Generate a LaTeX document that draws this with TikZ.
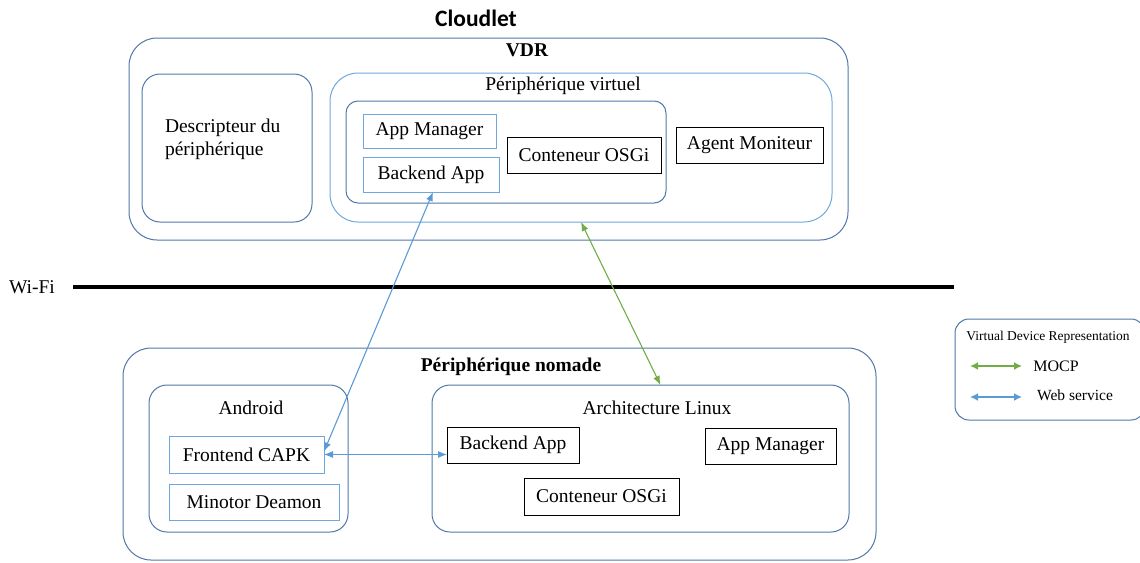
\documentclass[tikz,border=0pt]{standalone}
\usepackage{fontspec}
\setmainfont{Liberation Serif}
\newfontfamily\titlefont{Carlito}
\usetikzlibrary{arrows.meta,calc}
\definecolor{steel}{HTML}{5078A8}
\definecolor{lblue}{HTML}{6FA8DC}
\definecolor{abluec}{HTML}{5B9BD5}
\definecolor{agreen}{HTML}{70AD47}
\begin{document}
\begin{tikzpicture}[x=1pt,y=-1pt,
  every node/.style={inner sep=0pt, outer sep=0pt},
  txt/.style={font=\fontsize{19.5}{23}\selectfont},
  bigbox/.style={draw=steel, line width=1pt, rounded corners=28pt},
  midbox/.style={draw=steel, line width=1pt, rounded corners=18pt},
  lbbox/.style={draw=lblue, line width=1pt, rounded corners=28pt},
  smallrb/.style={draw=steel, line width=1pt, rounded corners=12pt},
  bluebox/.style={draw=lblue, line width=1pt, txt},
  blackbox/.style={draw=black, line width=0.9pt, txt},
  warrow/.style={line width=1.1pt, {Latex[length=9pt,width=7pt]}-{Latex[length=9pt,width=7pt]}}
]
\useasboundingbox (0,0) rectangle (1140,562);
% Cloudlet
\node[font=\titlefont\bfseries\fontsize{23.5}{28}\selectfont] (cloudlet) at (476,18) {Cloudlet};
\node[bigbox, minimum width=719pt, minimum height=202pt] (vdr) at (488.5,139) {};
\node[font=\fontsize{19.5}{23}\selectfont\bfseries] (vdrl) at (527,50) {VDR};
\node[midbox, minimum width=170pt, minimum height=148pt] (desc) at (227,148) {};
\node[txt, align=left, anchor=west] (descl) at (165,139) {Descripteur du\\périphérique};
\node[lbbox, minimum width=502pt, minimum height=149pt] (pv) at (581,147.5) {};
\node[txt] (pvl) at (563,86) {Périphérique virtuel};
\node[smallrb, minimum width=320pt, minimum height=102pt] (inner) at (506,152) {};
\node[bluebox, minimum width=133pt, minimum height=34pt] (vam) at (429.5,131) {App Manager};
\node[bluebox, minimum width=136pt, minimum height=35pt] (vba) at (431,174.5) {Backend App};
\node[blackbox, minimum width=154pt, minimum height=36pt] (vosgi) at (584,155) {Conteneur OSGi};
\node[blackbox, minimum width=147pt, minimum height=36pt] (agent) at (749.5,145) {Agent Moniteur};
% Wi-Fi
\node[txt] (wifi) at (32,287) {Wi-Fi};
\coordinate (w1) at (73,287);
\coordinate (w2) at (954,287);
\draw[line width=4pt] (w1) -- (w2);
% Peripherique nomade
\node[bigbox, minimum width=753pt, minimum height=212pt] (pn) at (499.5,454) {};
\node[font=\fontsize{19.5}{23}\selectfont\bfseries] (pnl) at (511,367) {Périphérique nomade};
\node[midbox, minimum width=199pt, minimum height=147pt] (android) at (248.5,458.5) {};
\node[txt] (androidl) at (251,408) {Android};
\node[bluebox, minimum width=155pt, minimum height=37pt] (fcapk) at (246.5,454.5) {Frontend CAPK};
\node[bluebox, minimum width=170pt, minimum height=36pt] (mdeam) at (254,502) {Minotor Deamon};
\node[midbox, minimum width=417pt, minimum height=147pt] (al) at (640.5,458.5) {};
\node[txt] (all) at (657,408) {Architecture Linux};
\node[blackbox, minimum width=132pt, minimum height=36pt] (lba) at (513,445) {Backend App};
\node[blackbox, minimum width=131pt, minimum height=36pt] (lam) at (770.5,446) {App Manager};
\node[blackbox, minimum width=155pt, minimum height=37pt] (losgi) at (601.5,496.5) {Conteneur OSGi};
% arrows
\draw[warrow, abluec] ([xshift=2pt]vba.south) -- ([yshift=3pt]fcapk.east);
\draw[warrow, abluec] (fcapk.east) -- (fcapk.east -| lba.west);
\draw[warrow, agreen] (pv.south) -- ([xshift=20pt]al.north);
% legend
\node[draw=steel, line width=1pt, rounded corners=14pt, minimum width=190pt, minimum height=101pt] (legend) at (1050,369.5) {};
\node[font=\fontsize{13.5}{16}\selectfont] (legt) at (1048,337) {Virtual Device Representation};
\coordinate (g1) at (970,366);
\coordinate (g2) at (1022,366);
\draw[agreen, line width=2pt, {Latex[length=8pt,width=8pt]}-{Latex[length=8pt,width=8pt]}] (g1) -- (g2);
\node[font=\fontsize{16}{18}\selectfont] (mocp) at (1056,366) {MOCP};
\coordinate (b1) at (970,397);
\coordinate (b2) at (1022,397);
\draw[abluec, line width=2pt, {Latex[length=8pt,width=8pt]}-{Latex[length=8pt,width=8pt]}] (b1) -- (b2);
\node[font=\fontsize{15.5}{18}\selectfont] (ws) at (1075,395) {Web service};
\end{tikzpicture}
\end{document}
